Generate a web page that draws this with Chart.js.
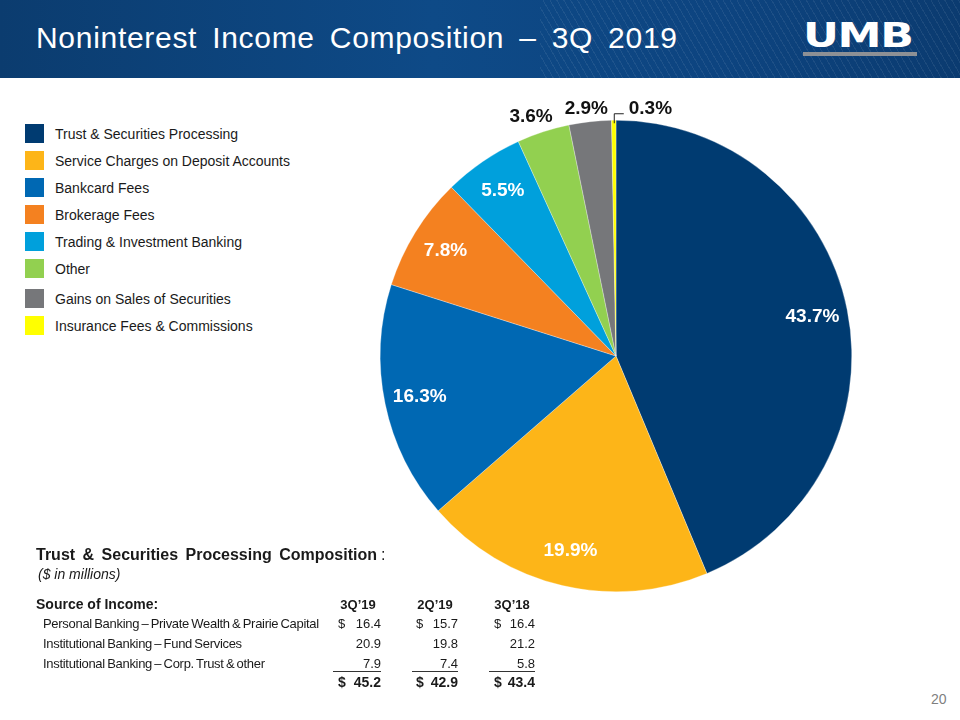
<!DOCTYPE html>
<html>
<head>
<meta charset="utf-8">
<script src="https://cdn.jsdelivr.net/npm/chart.js@4.4.0/dist/chart.umd.min.js"></script>
<style>
  html, body { margin: 0; padding: 0; background: #fff; }
  body { width: 960px; height: 720px; position: relative; overflow: hidden; font-family: "Liberation Sans", Arial, sans-serif; color: #1a1a1a; }
  #header {
    position: absolute; left: 0; top: 0; width: 960px; height: 78px;
    background:
      repeating-linear-gradient(60deg, rgba(255,255,255,0) 0 5px, rgba(255,255,255,0.07) 5px 6px) 540px 0 / 420px 78px no-repeat,
      linear-gradient(90deg, #0b3c6f 0%, #0e4a87 45%, #0d4480 75%, #0b3b70 100%);
  }
  #title { position: absolute; left: 36px; top: 21px; color: #fff; font-size: 30px; white-space: pre; letter-spacing: 0.7px; word-spacing: 6px; }
  #logo { position: absolute; left: 803px; top: 16px; color: #fff; font-family: "DejaVu Sans", sans-serif; font-weight: bold; font-size: 33px; line-height: 40px; transform: scaleX(1.34); transform-origin: left top; letter-spacing: -1px; }
  #logoBar { position: absolute; left: 803px; top: 52px; width: 114px; height: 4px; background: #8d9095; }
  #legend { position: absolute; left: 25px; top: 124px; }
  .lg { display: flex; align-items: center; height: 19px; margin-bottom: 8px; font-size: 14px; }
  .lg span.sw { width: 19px; height: 19px; margin-right: 11px; }
  .t { position: absolute; white-space: pre; line-height: 18px; transform: translateY(-50%); }
  #chartBox { position: absolute; left: 370px; top: 90px; width: 500px; height: 510px; }
  #pageNo { position: absolute; left: 931px; top: 691px; color: #7f7f7f; font-size: 14px; }
</style>
</head>
<body>
<div id="header">
  <div id="title">Noninterest Income Composition – 3Q 2019</div>
  <div id="logo">UMB</div>
  <div id="logoBar"></div>
</div>
<div id="legend"></div>
<div id="chartBox"><canvas id="pieChart" width="500" height="510"></canvas></div>
<div id="table"></div>
<div id="pageNo">20</div>

<script>
const categories = [
  "Trust & Securities Processing",
  "Service Charges on Deposit Accounts",
  "Bankcard Fees",
  "Brokerage Fees",
  "Trading & Investment Banking",
  "Other",
  "Gains on Sales of Securities",
  "Insurance Fees & Commissions",
];
const shares = [43.7, 19.9, 16.3, 7.8, 5.5, 3.6, 2.9, 0.3];
const sliceColors = ["#003b71", "#fdb518", "#0068b3", "#f48120", "#00a0dc", "#92d050", "#76777a", "#ffff00"];

const tspPeriods = ["3Q\u201919", "2Q\u201919", "3Q\u201918"];
const tspSources = [
  "Personal Banking \u2013 Private Wealth & Prairie Capital",
  "Institutional Banking \u2013 Fund Services",
  "Institutional Banking \u2013 Corp. Trust & other",
];
const tsp3Q19 = [16.4, 20.9, 7.9];
const tsp2Q19 = [15.7, 19.8, 7.4];
const tsp3Q18 = [16.4, 21.2, 5.8];
const tspTotals = [45.2, 42.9, 43.4];

document.addEventListener("DOMContentLoaded", function () {
  buildLegend();
  buildTable();
  createPieChart();
});

function buildLegend() {
  const legend = document.getElementById("legend");
  categories.forEach((name, i) => {
    const row = document.createElement("div");
    row.className = "lg";
    if (i === 6) row.style.marginTop = "11px"; // extra gap before Gains row (margins collapse)
    row.innerHTML = `<span class="sw" style="background:${sliceColors[i]}"></span>${name.replace("&", "&amp;")}`;
    legend.appendChild(row);
  });
}

function place(text, x, y, css, align) {
  const el = document.createElement("div");
  el.className = "t";
  el.textContent = text;
  el.style.cssText += css || "";
  if (align === "right") {
    el.style.right = 960 - x + "px";
  } else if (align === "center") {
    el.style.left = x + "px";
    el.style.transform = "translate(-50%, -50%)";
  } else {
    el.style.left = x + "px";
  }
  el.style.top = y + "px";
  document.getElementById("table").appendChild(el);
  return el;
}

function buildTable() {
  place("Trust & Securities Processing Composition", 36, 555, "font-weight:bold;font-size:16px;word-spacing:3px;");
  place(":", 381, 555, "font-size:16px;");
  place("($ in millions)", 38, 574, "font-style:italic;font-size:14px;");
  place("Source of Income:", 36, 604, "font-weight:bold;font-size:14px;");

  const headerX = [358, 435, 512];
  const rightX = [381, 458, 535];
  const dollarX = [338, 416, 494];
  const underX = [333, 412, 489];
  const rowY = [624, 644, 664];
  const cols = [tsp3Q19, tsp2Q19, tsp3Q18];

  tspPeriods.forEach((p, c) => {
    place(p, headerX[c], 605, "font-weight:bold;font-size:13px;", "center");
  });

  tspSources.forEach((s, r) => {
    place(s, 43, rowY[r], "font-size:13px;letter-spacing:-0.3px;word-spacing:-1px;");
    cols.forEach((vals, c) => {
      if (r === 0) place("$", dollarX[c], rowY[r], "font-size:13px;");
      place(vals[r].toFixed(1), rightX[c], rowY[r], "font-size:13px;", "right");
    });
  });

  // underline under the last detail row
  cols.forEach((vals, c) => {
    const line = document.createElement("div");
    line.style.cssText = `position:absolute;left:${underX[c]}px;top:671px;width:${rightX[c] - underX[c]}px;height:1px;background:#333;`;
    document.getElementById("table").appendChild(line);
  });

  tspTotals.forEach((t, c) => {
    place("$", dollarX[c], 682, "font-weight:bold;font-size:14px;");
    place(t.toFixed(1), rightX[c], 682, "font-weight:bold;font-size:14px;", "right");
  });
}

const pctLabels = {
  id: "pctLabels",
  afterDatasetsDraw(chart) {
    const ctx = chart.ctx;
    const arcs = chart.getDatasetMeta(0).data;
    ctx.save();
    ctx.font = "bold 19px 'Liberation Sans', Arial, sans-serif";
    ctx.textBaseline = "middle";
    arcs.forEach((arc, i) => {
      const p = arc.getProps(["x", "y", "startAngle", "endAngle", "outerRadius"], true);
      const mid = (p.startAngle + p.endAngle) / 2;
      const text = shares[i].toFixed(1) + "%";
      if (i < 5) {
        const r = p.outerRadius * 0.85;
        ctx.fillStyle = "#ffffff";
        ctx.textAlign = "center";
        ctx.fillText(text, p.x + Math.cos(mid) * r, p.y + Math.sin(mid) * r);
      } else if (i < 7) {
        const r = p.outerRadius * 1.07;
        const nudge = i === 5 ? [-7, 1] : [-2, 3];
        ctx.fillStyle = "#111111";
        ctx.textAlign = "center";
        ctx.fillText(text, p.x + Math.cos(mid) * r + nudge[0], p.y + Math.sin(mid) * r + nudge[1]);
      } else {
        // small slice: leader line out to the right
        const ex = p.x + Math.cos(mid) * p.outerRadius;
        const ey = p.y + Math.sin(mid) * p.outerRadius;
        ctx.strokeStyle = "#222";
        ctx.lineWidth = 1;
        ctx.beginPath();
        ctx.moveTo(ex + 0.5, ey + 3);
        ctx.lineTo(ex + 0.5, ey - 6.5);
        ctx.lineTo(ex + 10, ey - 6.5);
        ctx.stroke();
        ctx.fillStyle = "#111111";
        ctx.textAlign = "left";
        ctx.fillText(text, ex + 15, ey - 11);
      }
    });
    ctx.restore();
  },
};

function createPieChart() {
  const ctx = document.getElementById("pieChart").getContext("2d");
  new Chart(ctx, {
    type: "pie",
    data: {
      labels: categories,
      datasets: [
        {
          data: shares,
          backgroundColor: sliceColors,
          borderColor: "rgba(255,255,255,0.6)",
          borderWidth: 0.5,
          hoverOffset: 0,
        },
      ],
    },
    options: {
      responsive: false,
      animation: false,
      layout: { padding: { left: 10, right: 18, top: 30, bottom: 8 } },
      plugins: {
        legend: { display: false },
        tooltip: { enabled: false },
      },
    },
    plugins: [pctLabels],
  });
}
</script>
</body>
</html>
